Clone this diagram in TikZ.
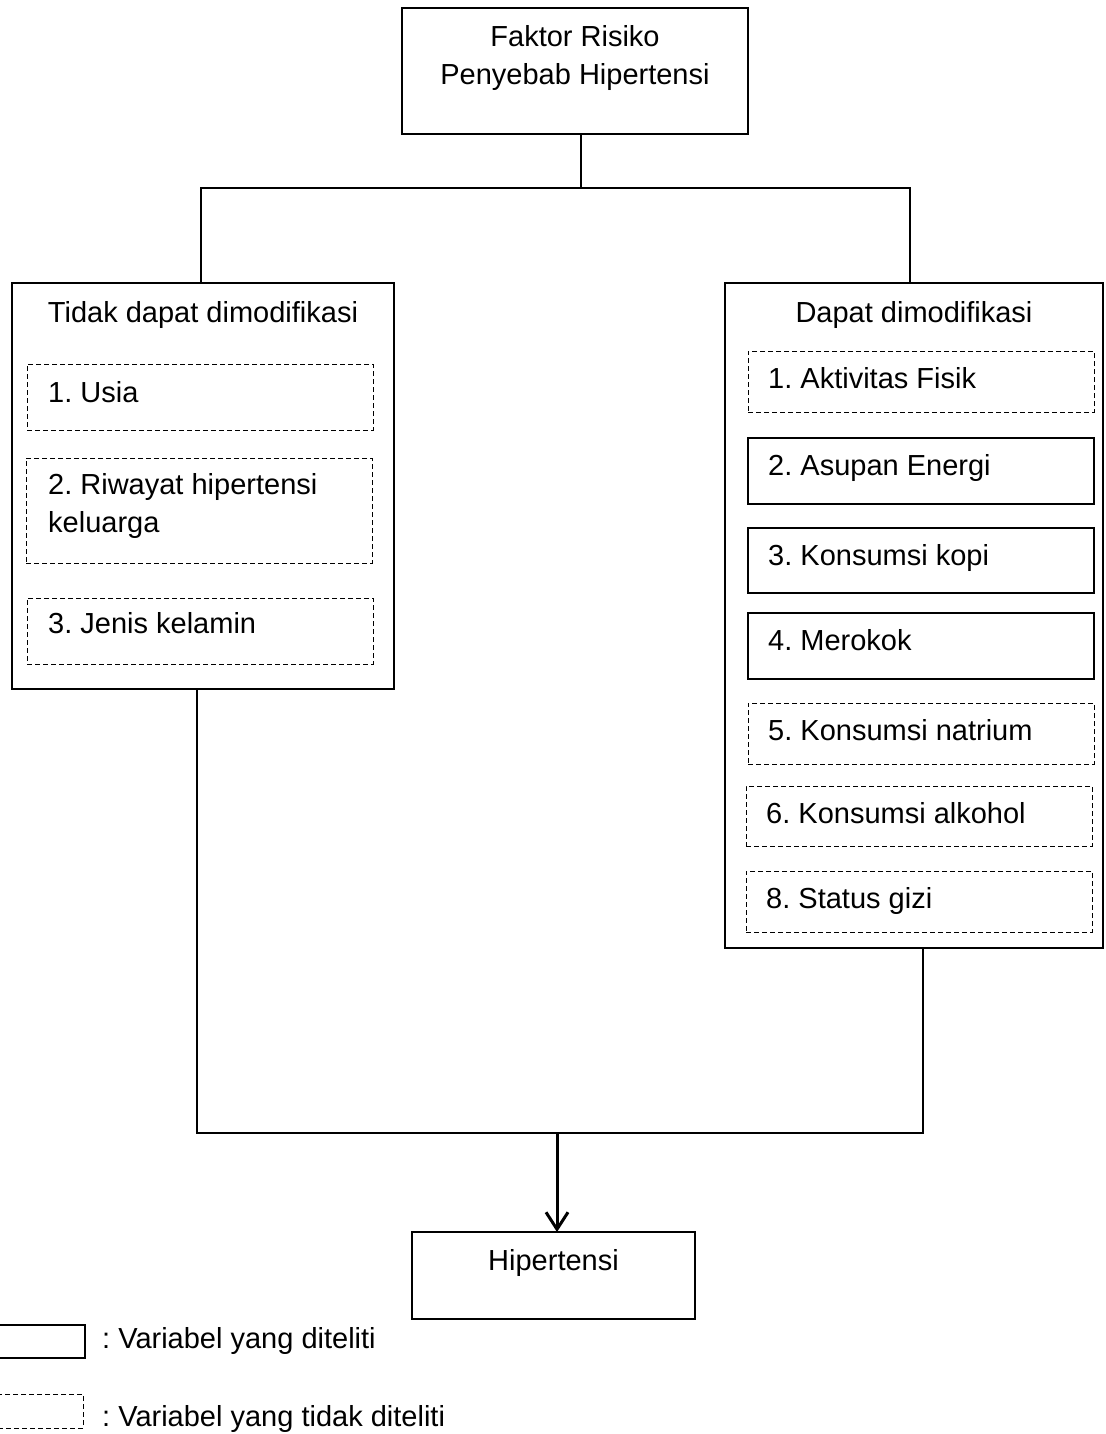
\documentclass[tikz,border=0pt]{standalone}
\usepackage{fontspec}
\setmainfont{Liberation Sans}
\usetikzlibrary{arrows.meta}
\frenchspacing
\begin{document}
\begin{tikzpicture}[x=1pt,y=-1pt,
  solidbox/.style={draw=black, line width=1.5pt, rectangle, inner sep=0pt, outer sep=0pt},
  dashbox/.style={draw=black, line width=1pt, dash pattern=on 5pt off 3pt, rectangle, inner sep=0pt, outer sep=0pt},
  txt/.style={inner sep=0pt, anchor=base west, font=\fontsize{29}{38}\selectfont},
  ctxt/.style={inner sep=0pt, anchor=base, font=\fontsize{29}{38}\selectfont},
  conn/.style={draw=black, line width=1.5pt},
  conn2/.style={draw=black, line width=2pt}
]
\useasboundingbox (0,0) rectangle (1105,1434);
% main boxes
\node[solidbox, minimum width=346pt, minimum height=126pt] (top) at (575,71) {};
\node[solidbox, minimum width=382pt, minimum height=406pt] (left) at (203,486) {};
\node[solidbox, minimum width=378pt, minimum height=665pt] (right) at (914,615.5) {};
\node[solidbox, minimum width=283pt, minimum height=87pt] (hip) at (553.5,1275.5) {};
% left inner
\node[dashbox, minimum width=346pt, minimum height=66pt] (usia) at (200,397) {};
\node[dashbox, minimum width=346pt, minimum height=105pt] (riw) at (199,510.5) {};
\node[dashbox, minimum width=346pt, minimum height=66pt] (jen) at (200,631) {};
% right inner
\node[dashbox, minimum width=346pt, minimum height=61pt] (akt) at (921,381.5) {};
\node[solidbox, minimum width=346pt, minimum height=66pt] (asu) at (921,471) {};
\node[solidbox, minimum width=346pt, minimum height=65pt] (kopi) at (921,560.5) {};
\node[solidbox, minimum width=346pt, minimum height=66pt] (mer) at (921,646) {};
\node[dashbox, minimum width=346pt, minimum height=61pt] (nat) at (921,733.5) {};
\node[dashbox, minimum width=346pt, minimum height=60pt] (alk) at (919,816) {};
\node[dashbox, minimum width=346pt, minimum height=61pt] (gizi) at (919,901.5) {};
% texts
\node[ctxt] (t1a) at (575,47) {Faktor Risiko};
\node[ctxt] (t1b) at (575,85) {Penyebab Hipertensi};
\node[ctxt] (tl) at (203,322) {Tidak dapat dimodifikasi};
\node[ctxt] (tr) at (914,322) {Dapat dimodifikasi};
\node[txt] (tusia) at (48,402) {1. Usia};
\node[txt] (triwa) at (48,494) {2. Riwayat hipertensi};
\node[txt] (triwb) at (48,532) {keluarga};
\node[txt] (tjen) at (48,633) {3. Jenis kelamin};
\node[txt] (takt) at (768,388) {1. Aktivitas Fisik};
\node[txt] (tasu) at (768,475) {2. Asupan Energi};
\node[txt] (tkopi) at (768,565) {3. Konsumsi kopi};
\node[txt] (tmer) at (768,650) {4. Merokok};
\node[txt] (tnat) at (768,740) {5. Konsumsi natrium};
\node[txt] (talk) at (766,823) {6. Konsumsi alkohol};
\node[txt] (tgizi) at (766,908) {8. Status gizi};
\node[ctxt] (thip) at (553.5,1270) {Hipertensi};
% connectors
\coordinate (j1) at (581,188);
\coordinate (jL) at (201,188);
\coordinate (jR) at (910,188);
\draw[conn] (j1 |- top.south) -- (j1);
\draw[conn] (jL |- left.north) -- (jL) -- (jR) -- (jR |- right.north);
\coordinate (bL) at (197,1133);
\coordinate (bR) at (923,1133);
\coordinate (bM) at (557,1133);
\draw[conn2] (bL |- left.south) -- (bL) -- (bR) -- (bR |- right.south);
\draw[draw=black, line width=3pt, -{Straight Barb[length=17pt,width=22pt,line width=3pt]}] (bM) -- (bM |- hip.north);
% legend
\node[solidbox, minimum width=95pt, minimum height=33pt] (lg1) at (37.5,1341.5) {};
\node[dashbox, minimum width=93pt, minimum height=34pt] (lg2) at (36.5,1411) {};
\node[txt] (tlg1) at (102,1348) {: Variabel yang diteliti};
\node[txt] (tlg2) at (102,1426) {: Variabel yang tidak diteliti};
\end{tikzpicture}
\end{document}
